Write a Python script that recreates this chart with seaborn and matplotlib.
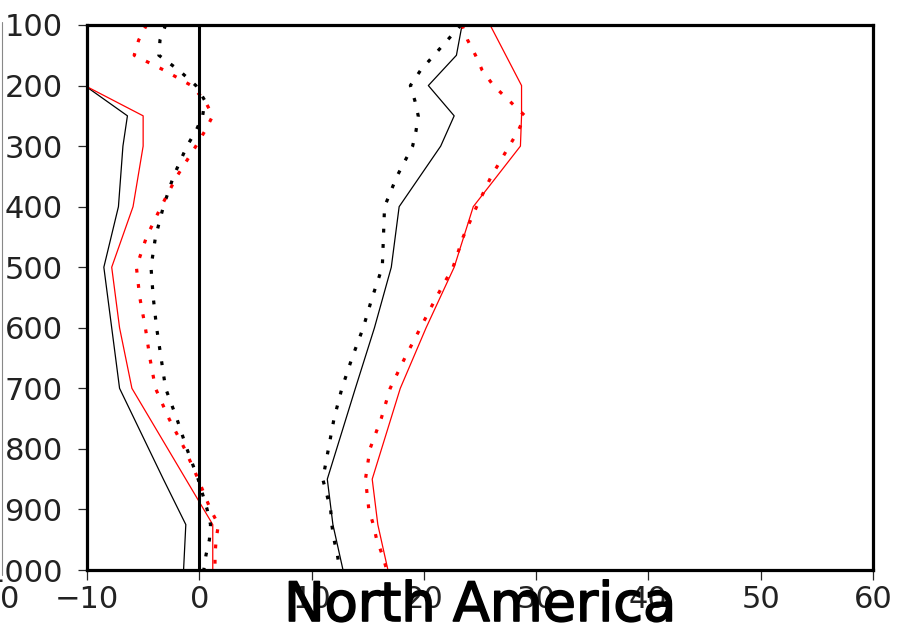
import matplotlib
matplotlib.use("Agg")
import numpy as np
import pandas as pd
import seaborn as sns
import matplotlib.pyplot as plt
import matplotlib.patheffects as pe
from matplotlib.lines import Line2D

# ---- data (pressure levels in hPa) ----
lev_dot = [100, 125, 150, 175, 200, 225, 250, 275, 300, 350, 400, 450, 500,
           550, 600, 650, 700, 750, 800, 850, 900, 925, 950, 975, 1000]
black_dot_left = [-3.0, -3.5, -3.6, -1.8, -0.3, 0.5, 0.3, -0.3, -1.1, -2.3, -3.2, -3.9, -4.3,
                  -4.1, -3.8, -3.4, -3.0, -2.0, -1.1, -0.1, 0.7, 1.0, 0.9, 0.6, 0.4]
red_dot_left = [-4.7, -5.4, -5.8, -3.1, -0.7, 0.5, 1.2, 0.5, -0.3, -2.0, -3.4, -4.7, -5.6,
                -5.3, -4.8, -4.4, -3.9, -2.7, -1.3, -0.1, 1.0, 1.7, 1.5, 1.4, 1.4]
black_dot_right = [23.3, 22.1, 20.9, 19.7, 18.8, 19.2, 19.5, 19.3, 19.0, 17.6, 16.5, 16.4, 16.3,
                   15.4, 14.6, 13.6, 12.7, 12.0, 11.5, 11.0, 11.7, 11.8, 12.0, 12.3, 12.5]
red_dot_right = [23.4, 23.9, 24.6, 25.2, 26.2, 27.6, 29.0, 28.4, 27.6, 26.0, 24.7, 23.5, 22.6,
                 21.1, 19.7, 18.3, 17.0, 16.2, 15.2, 14.8, 15.1, 15.5, 15.8, 16.3, 16.7]

lev_sol_left = [200, 250, 300, 400, 500, 600, 700, 850, 925, 1000]
black_sol_left = [-10.2, -6.4, -6.8, -7.2, -8.5, -7.8, -7.1, -3.2, -1.2, -1.4]
red_sol_left = [-10.2, -5.0, -5.0, -5.9, -7.8, -7.1, -6.0, -1.2, 1.2, 1.2]

lev_sol_right = [100, 150, 200, 250, 300, 400, 500, 600, 700, 850, 925, 1000]
black_sol_right = [23.4, 22.9, 20.4, 22.7, 21.5, 17.8, 17.1, 15.6, 13.9, 11.4, 11.9, 12.8]
red_sol_right = [25.9, 27.3, 28.7, 28.7, 28.6, 24.4, 22.7, 20.2, 17.9, 15.4, 15.9, 16.8]

x_ticks = [-10, 0, 10, 20, 30, 40, 50, 60]
x_labels = ["\u221210", "0", "10", "20", "30", "40", "50", "60"]
y_ticks = [100, 200, 300, 400, 500, 600, 700, 800, 900, 1000]
y_labels = ["100", "200", "300", "400", "500", "600", "700", "800", "900", "1000"]
title = "North America"

# ---- figure ----
sns.set_style("white")
plt.rcParams["font.family"] = ["DejaVu Sans"]

W, H = 900, 639
fig = plt.figure(figsize=(W / 100, H / 100), dpi=100)
ax = fig.add_axes([87 / W, 1 - 570 / H, 786 / W, 545 / H])

dotted = (0, (1.2, 3.6))
series = [
    (black_sol_left, lev_sol_left, "black", "-", 0.9),
    (red_sol_left, lev_sol_left, "#ff0000", "-", 0.9),
    (black_sol_right, lev_sol_right, "black", "-", 0.9),
    (red_sol_right, lev_sol_right, "#ff0000", "-", 0.9),
    (black_dot_left, lev_dot, "black", dotted, 2.3),
    (red_dot_left, lev_dot, "#ff0000", dotted, 2.3),
    (black_dot_right, lev_dot, "black", dotted, 2.3),
    (red_dot_right, lev_dot, "#ff0000", dotted, 2.3),
]
for xs, ps, col, ls, lw in series:
    df = pd.DataFrame({"x": xs, "p": ps})
    sns.lineplot(data=df, x="x", y="p", sort=False, estimator=None, ax=ax,
                 color=col, linestyle=ls, linewidth=lw, dash_capstyle="butt")

ax.axvline(0, color="black", lw=2.2, zorder=5)

ax.set_xlim(-10, 60)
ax.set_ylim(1000, 100)
ax.set_xticks(x_ticks)
ax.set_xticklabels(x_labels)
ax.set_yticks(y_ticks)
ax.set_yticklabels(y_labels)
ax.set_xlabel("")
ax.set_ylabel("")
for s in ax.spines.values():
    s.set_visible(True)
    s.set_linewidth(2.3)
    s.set_color("black")
ax.tick_params(axis="y", which="both", left=True, right=False, direction="out",
               length=6.5, width=0.9, pad=11, labelsize=22, labelcolor="#222222")
ax.tick_params(axis="x", which="both", bottom=True, top=False, direction="out",
               length=7, width=0.9, pad=4, labelsize=22, labelcolor="#222222")
ax.grid(False)

# neighbouring-panel remnants at the left edge
fig.add_artist(Line2D([1.5 / W, 1.5 / W], [1 - 22 / H, 1 - 575 / H],
                      transform=fig.transFigure, color="#888888", lw=0.8))
fig.text(10 / W, 1 - 600 / H, "0", fontsize=22, color="#222222", ha="center", va="center")

fig.text(480 / W, 1 - 606 / H, title, fontsize=39, color="black", ha="center", va="center",
         zorder=10, path_effects=[pe.withStroke(linewidth=1.2, foreground="black")])

fig.savefig("out.png", dpi=100, facecolor="white")
